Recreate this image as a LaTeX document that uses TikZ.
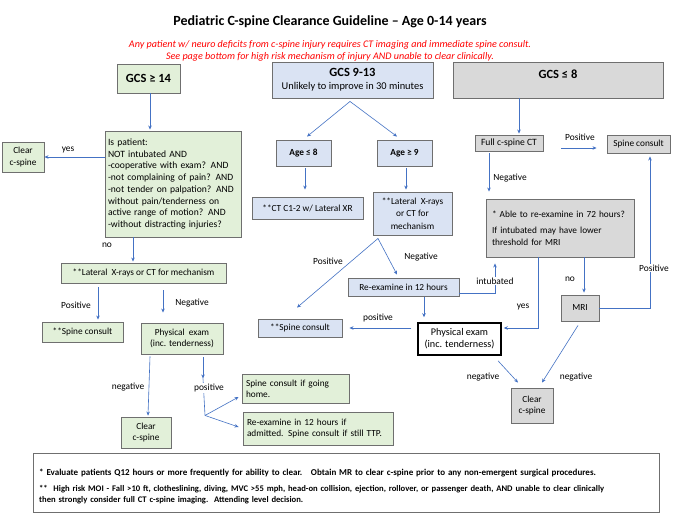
\documentclass[tikz,border=0pt]{standalone}
\usepackage{fontspec}
\setmainfont{Carlito}
\usetikzlibrary{calc,arrows.meta}
\definecolor{gfill}{HTML}{E2F0D9}
\definecolor{bfill}{HTML}{DAE3F3}
\definecolor{sfill}{HTML}{D9D9D9}
\definecolor{bordergray}{HTML}{6F6F6F}
\definecolor{arrblue}{HTML}{4472C4}
\definecolor{redtxt}{HTML}{FF0000}
\tikzset{
  box/.style={draw=bordergray, line width=0.9pt, inner sep=2pt, align=center, font=\fontsize{9.3}{11.3}\selectfont},
  gbox/.style={box, fill=gfill},
  bbox/.style={box, fill=bfill},
  sbox/.style={box, fill=sfill},
  sz/.style 2 args={minimum width=#1, minimum height=#2},
  gcs/.style={font=\fontsize{12.5}{14}\selectfont\bfseries},
  arr/.style={draw=arrblue, line width=0.6pt, -{Stealth[length=4pt,width=3.5pt]}},
  ln/.style={draw=arrblue, line width=0.6pt},
  lab/.style={font=\fontsize{9.4}{11}\selectfont, inner sep=0.5pt},
}
\begin{document}
\begin{tikzpicture}[x=1pt,y=-1pt]
\useasboundingbox[fill=white] (0,0) rectangle (677,514);

% title
\node[font=\fontsize{14}{16}\selectfont\bfseries] (title) at (330,22) {Pediatric C-spine Clearance Guideline -- Age 0-14 years};
\node[font=\fontsize{10.1}{12}\selectfont\itshape, text=redtxt, align=center] (red) at (330,51)
  {Any patient w/ neuro deficits from c-spine injury requires CT imaging and immediate spine consult.\\
   See page bottom for high risk mechanism of injury AND unable to clear clinically.};

% ---------- left column ----------
\node[gbox, sz={63}{29}, gcs] (g14) at (148.5,78.5) {GCS ≥ 14};
\node[gbox, inner sep=3pt, text width=130, align=left, minimum height=106, font=\fontsize{9.6}{11.7}\selectfont] (ispat) at (173,184)
  {Is patient:\\NOT intubated AND\\-cooperative with exam? AND\\-not complaining of pain? AND\\-not tender on palpation? AND\\without pain/tenderness on\\active range of motion? AND\\-without distracting injuries?};
\node[gbox, sz={42}{30}] (clearL) at (23,157) {Clear\\c-spine};
\node[gbox, sz={165}{20}] (latL) at (143.5,273) {**Lateral\ \ X-rays or CT for mechanism};
\node[gbox, sz={81}{20}] (spineL) at (82.5,332) {**Spine consult};
\node[gbox, sz={82}{31}] (examL) at (182,338.5) {Physical\ \ exam\\(inc. tenderness)};
\node[gbox, sz={50}{31}] (clearL2) at (146,432.5) {Clear\\c-spine};
\node[gbox, inner sep=4pt, text width=99, align=left, minimum height=29] (home) at (295.5,388.5) {Spine consult if going\\home.};
\node[gbox, inner sep=4pt, text width=142, align=left, minimum height=33] (reexL) at (318,428.5) {Re-examine in 12 hours if\\admitted. Spine consult if still TTP.};

\draw[arr] ($(g14.south)+(1.5,0)$) -- ($(ispat.north)+(-23,-1)$);
\draw[arr] (ispat.west |- clearL.east) -- (clearL.east);
\node[lab] (lyes) at (68,150) {yes};
\draw[arr] ($(ispat.south)+(-40,0)$) -- ($(latL.north)+(-10.5,-1)$);
\node[lab] (lno) at (107,245) {no};
\draw[arr] ($(latL.south)+(-45.5,4)$) -- ($(spineL.north)+(15.5,-2)$);
\node[lab] (lpos1) at (76,305) {Positive};
\draw[arr] ($(latL.south)+(19.5,7)$) -- ($(examL.north)+(-19,-10)$);
\node[lab] (lneg1) at (192,303) {Negative};
\draw[arr] ($(examL.south)+(-32,2)$) -- ($(clearL2.north)+(2,-1)$);
\node[lab] (lneg2) at (128,387) {negative};
\coordinate (ptip) at ($(examL.south)+(21,24)$);
\coordinate (br) at ($(examL.south)+(23,61)$);
\draw[arr] ($(examL.south)+(21,3)$) -- (ptip);
\draw[ln] (ptip) -- (br);
\node[lab, fill=white] (lpos2) at (209,388) {positive};
\draw[arr] (br) -- ($(home.west)+(-3,8.5)$);
\draw[arr] (br) -- ($(reexL.west)+(-4,-1.5)$);

% ---------- middle column ----------
\node[bbox, sz={161}{36}, font=\fontsize{10.4}{13}\selectfont] (g913) at (352.5,80) {{\fontsize{12.5}{14}\selectfont\bfseries GCS 9-13}\\Unlikely to improve in 30 minutes};
\node[bbox, sz={55}{26}, font=\fontsize{9.3}{11}\selectfont\bfseries] (age8) at (303.5,153) {Age ≤ 8};
\node[bbox, sz={55}{26}, font=\fontsize{9.3}{11}\selectfont\bfseries] (age9) at (404.5,153) {Age ≥ 9};
\node[bbox, sz={111}{22}] (ct12) at (307.5,208) {**CT C1-2 w/ Lateral XR};
\node[bbox, sz={79}{43}, font=\fontsize{9.3}{12.5}\selectfont] (lat9) at (412.5,213.5) {**Lateral\ \ X-rays\\or CT for\\mechanism};
\node[bbox, sz={111}{18}] (reex) at (403.5,287) {Re-examine in 12 hours};
\node[bbox, sz={84}{18}] (spineM) at (300,328) {**Spine consult};
\node[box, fill=white, draw=black, line width=1.5pt, sz={83}{32}, font=\fontsize{10.2}{12}\selectfont] (examM) at (459.5,339) {Physical exam\\(inc. tenderness)};

\draw[arr] ($(g913.south)+(-2.5,3)$) -- ($(age8.north)+(3.5,-3)$);
\draw[arr] ($(g913.south)+(-2.5,3)$) -- ($(age9.north)+(-7.5,-3)$);
\draw[arr] ($(age8.south)+(1.5,2)$) -- ($(ct12.north)+(-2.5,-7)$);
\draw[arr] ($(age9.south)+(1.5,2)$) -- ($(lat9.north)+(-6.5,-2)$);
\draw[arr] ($(lat9.south)+(-34.5,3)$) -- ($(spineM.north)+(-3,-11)$);
\draw[arr] ($(lat9.south)+(-34.5,3)$) -- ($(reex.north)+(-6.5,-3)$);
\node[lab] (lpos3) at (328,261) {Positive};
\node[lab] (lneg3) at (421,257) {Negative};
\draw[arr] ($(reex.south)+(20.5,1)$) -- ($(examM.north)+(-35.5,-5)$);
\draw[arr] ($(examM.west)+(-6,-11)$) -- ($(spineM.east)+(7,0)$);
\node[lab] (lpos4) at (378,318) {positive};

% ---------- right column ----------
\node[sbox, sz={210}{36}, gcs, text height=8pt, text depth=12pt] (g8) at (558,80) {GCS ≤ 8};
\node[sbox, sz={68}{16}, font=\fontsize{9.6}{11}\selectfont] (ctfull) at (509,143) {Full c-spine CT};
\node[sbox, sz={63}{18}] (spineR) at (638.5,144) {Spine consult};
\node[sbox, inner sep=6pt, text width=136, align=left, minimum height=58] (able) at (560,228)
  {* Able to re-examine in 72 hours?\\[5pt]If intubated may have lower\\threshold for MRI};
\node[sbox, sz={38}{26}] (mri) at (580,308) {MRI};
\node[sbox, sz={42}{35}] (clearR) at (532,405.5) {Clear\\c-spine};

\coordinate (c1) at ($(ctfull.north)+(10,-1)$);
\draw[arr] (g8.south -| c1) -- (c1);
\draw[arr] ($(ctfull.east)+(18,5)$) -- ($(spineR.west)+(-10,4)$);
\node[lab] (lpos5) at (580,137) {Positive};
\draw[arr] ($(ctfull.south)+(-20,2)$) -- ($(able.north)+(-71,-7)$);
\node[lab] (lneg5) at (510,178) {Negative};
\draw[arr] ($(able.south)+(-22,0)$) |- ($(examM.east)+(2,-11)$);
\node[lab] (lyes2) at (523,307) {yes};
\draw[arr] ($(able.south)+(24,0)$) -- ($(mri.north)+(4,-2)$);
\node[lab] (lno2) at (570,279) {no};
\draw[arr] (mri.east) -| ($(spineR.south)+(11.5,3)$);
\node[lab, fill=white] (lpos6) at (654,268) {Positive};
\draw[arr] ($(reex.east)+(0,6)$) -| ($(able.south)+(-65,6)$);
\node[lab, fill=white] (lint) at (495,281) {intubated};
\draw[arr] ($(mri.south)+(-2,4)$) -- ($(clearR.north)+(10,-5)$);
\node[lab] (lneg6) at (576,377) {negative};
\draw[arr] ($(examM.south)+(38.5,5)$) -- ($(clearR.north)+(-14,-5)$);
\node[lab] (lneg7) at (483,377) {negative};

% ---------- note ----------
\node[draw=bordergray, line width=0.9pt, fill=white, anchor=north west, minimum width=626, minimum height=59, inner sep=0pt] (note) at (33,453) {};
\node[anchor=north west, inner sep=0pt, text width=620, align=left, font=\fontsize{8.6}{10.3}\selectfont\bfseries] (notetxt) at (39,469)
  {{\fontsize{9.0}{10.3}\selectfont * Evaluate patients Q12 hours or more frequently for ability to clear.\ \ \ Obtain MR to clear c-spine prior to any non-emergent surgical procedures.}\\[6pt]
   **\ \ High risk MOI - Fall >10 ft, clotheslining, diving, MVC >55 mph, head-on collision, ejection, rollover, or passenger death, AND unable to clear clinically\\
   then strongly consider full CT c-spine imaging.\ \ Attending level decision.};
\end{tikzpicture}
\end{document}
